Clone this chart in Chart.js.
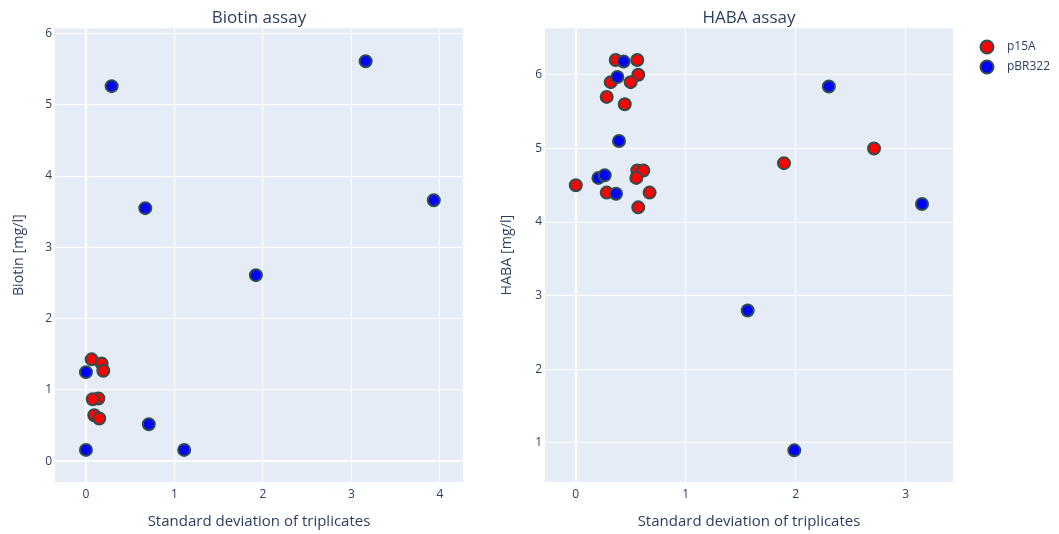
<!DOCTYPE html>
<html>
<head>
<meta charset="utf-8">
<script src="https://cdn.jsdelivr.net/npm/chart.js@4.4.0/dist/chart.umd.min.js"></script>
<style>
    body { margin: 0; background: #fff; }
    #biotinChart { position: absolute; left: 0; top: 0; }
    #habaChart { position: absolute; left: 488px; top: 0; }
</style>
</head>
<body>
<canvas id="biotinChart" width="488" height="534"></canvas>
<canvas id="habaChart" width="571" height="534"></canvas>
<script>
var seriesNames = ['p15A', 'pBR322'];
var seriesColors = ['red', 'blue'];

// Biotin assay
var biotinP15aSd = [0.064, 0.177, 0.196, 0.14, 0.076, 0.094, 0.15];
var biotinP15aVal = [1.43, 1.37, 1.27, 0.88, 0.87, 0.645, 0.60];
var biotinPbrSd = [0.29, 3.16, 0.67, 3.93, 1.92, 0, 0.71, 0, 1.11];
var biotinPbrVal = [5.26, 5.61, 3.55, 3.66, 2.61, 1.25, 0.52, 0.16, 0.16];

// HABA assay
var habaP15aSd = [0.363, 0.559, 0.568, 0.318, 0.499, 0.281, 0.445, 0, 0.281, 0.559, 0.614, 0.55, 0.671, 0.568, 1.893, 2.712];
var habaP15aVal = [6.2, 6.2, 6.0, 5.9, 5.9, 5.7, 5.6, 4.5, 4.4, 4.7, 4.7, 4.6, 4.4, 4.2, 4.8, 5.0];
var habaPbrSd = [0.435, 0.378, 0.393, 0.206, 0.263, 0.366, 2.301, 3.148, 1.563, 1.987];
var habaPbrVal = [6.18, 5.97, 5.1, 4.6, 4.635, 4.385, 5.84, 4.245, 2.8, 0.9];

var fontFamily = '"Open Sans", verdana, arial, sans-serif';
var textColor = '#2a3f5f';

function toPoints(xs, ys) {
    return xs.map(function (x, i) { return { x: x, y: ys[i] }; });
}

// light blue plot background like plotly
var plotBg = {
    id: 'plotBg',
    beforeDraw: function (chart) {
        var a = chart.chartArea;
        chart.ctx.save();
        chart.ctx.fillStyle = '#E5ECF6';
        chart.ctx.fillRect(a.left, a.top, a.right - a.left, a.bottom - a.top);
        chart.ctx.restore();
    }
};

// legend to the right of the HABA plot
var sideLegend = {
    id: 'sideLegend',
    afterDraw: function (chart, args, opts) {
        if (!opts.show) return;
        var ctx = chart.ctx;
        ctx.save();
        chart.data.datasets.forEach(function (ds, i) {
            var y = opts.y + i * 20;
            ctx.beginPath();
            ctx.arc(opts.x, y, 6.5, 0, Math.PI * 2);
            ctx.fillStyle = ds.backgroundColor;
            ctx.fill();
            ctx.lineWidth = 2;
            ctx.strokeStyle = ds.borderColor;
            ctx.stroke();
            ctx.fillStyle = textColor;
            ctx.font = '12px ' + fontFamily;
            ctx.textBaseline = 'middle';
            ctx.fillText(ds.label, opts.x + 20, y);
        });
        ctx.restore();
    }
};

function integerTicks(axis) {
    axis.ticks = axis.ticks.filter(function (t) {
        return Math.abs(t.value - Math.round(t.value)) < 1e-9;
    });
}

function gridWidth(ctx) {
    return ctx.tick && ctx.tick.value === 0 ? 2 : 1;
}

function makeDataset(i, xs, ys) {
    return {
        label: seriesNames[i],
        data: toPoints(xs, ys),
        backgroundColor: seriesColors[i],
        borderColor: '#2F4F4F',
        pointRadius: 6,
        pointHoverRadius: 6,
        pointBorderWidth: 2,
        order: i === 0 ? 1 : 0
    };
}

function buildScatter(canvasId, title, yTitle, datasets, xRange, yRange, yWidth, padRight, legendOpts) {
    var ctx = document.getElementById(canvasId).getContext('2d');
    return new Chart(ctx, {
        type: 'scatter',
        data: { datasets: datasets },
        options: {
            responsive: false,
            animation: false,
            layout: { padding: { left: 0, right: padRight, top: 0, bottom: 0 } },
            plugins: {
                legend: { display: false },
                tooltip: { enabled: false },
                title: {
                    display: true,
                    text: title,
                    color: textColor,
                    fullSize: false,
                    font: { family: fontFamily, size: 17, weight: 'normal', lineHeight: 1.2 },
                    padding: { top: 8, bottom: 0 }
                },
                sideLegend: legendOpts
            },
            scales: {
                x: {
                    type: 'linear',
                    min: xRange[0],
                    max: xRange[1],
                    afterBuildTicks: integerTicks,
                    afterFit: function (s) { s.height = 52; },
                    ticks: { stepSize: 1, includeBounds: false, color: textColor, padding: 5, font: { family: fontFamily, size: 12 } },
                    grid: { color: '#ffffff', lineWidth: gridWidth, drawTicks: false },
                    border: { display: false },
                    title: {
                        display: true,
                        text: 'Standard deviation of triplicates',
                        color: textColor,
                        font: { family: fontFamily, size: 15 },
                        padding: { top: 0, bottom: 3 }
                    }
                },
                y: {
                    type: 'linear',
                    min: yRange[0],
                    max: yRange[1],
                    afterBuildTicks: integerTicks,
                    afterFit: function (s) { s.width = yWidth; },
                    ticks: { stepSize: 1, includeBounds: false, color: textColor, padding: 3, font: { family: fontFamily, size: 12 } },
                    grid: { color: '#ffffff', lineWidth: gridWidth, drawTicks: false },
                    border: { display: false },
                    title: {
                        display: true,
                        text: yTitle,
                        color: textColor,
                        font: { family: fontFamily, size: 14.3 },
                        padding: { top: 10, bottom: 0 }
                    }
                }
            }
        },
        plugins: [plotBg, sideLegend]
    });
}

buildScatter('biotinChart', 'Biotin assay', 'Biotin [mg/l]',
    [makeDataset(0, biotinP15aSd, biotinP15aVal), makeDataset(1, biotinPbrSd, biotinPbrVal)],
    [-0.35, 4.26], [-0.29, 6.07], 55, 25, { show: false });

buildScatter('habaChart', 'HABA assay', 'HABA [mg/l]',
    [makeDataset(0, habaP15aSd, habaP15aVal), makeDataset(1, habaPbrSd, habaPbrVal)],
    [-0.28, 3.43], [0.47, 6.63], 57, 106, { show: true, x: 499, y: 47 });
</script>
</body>
</html>
